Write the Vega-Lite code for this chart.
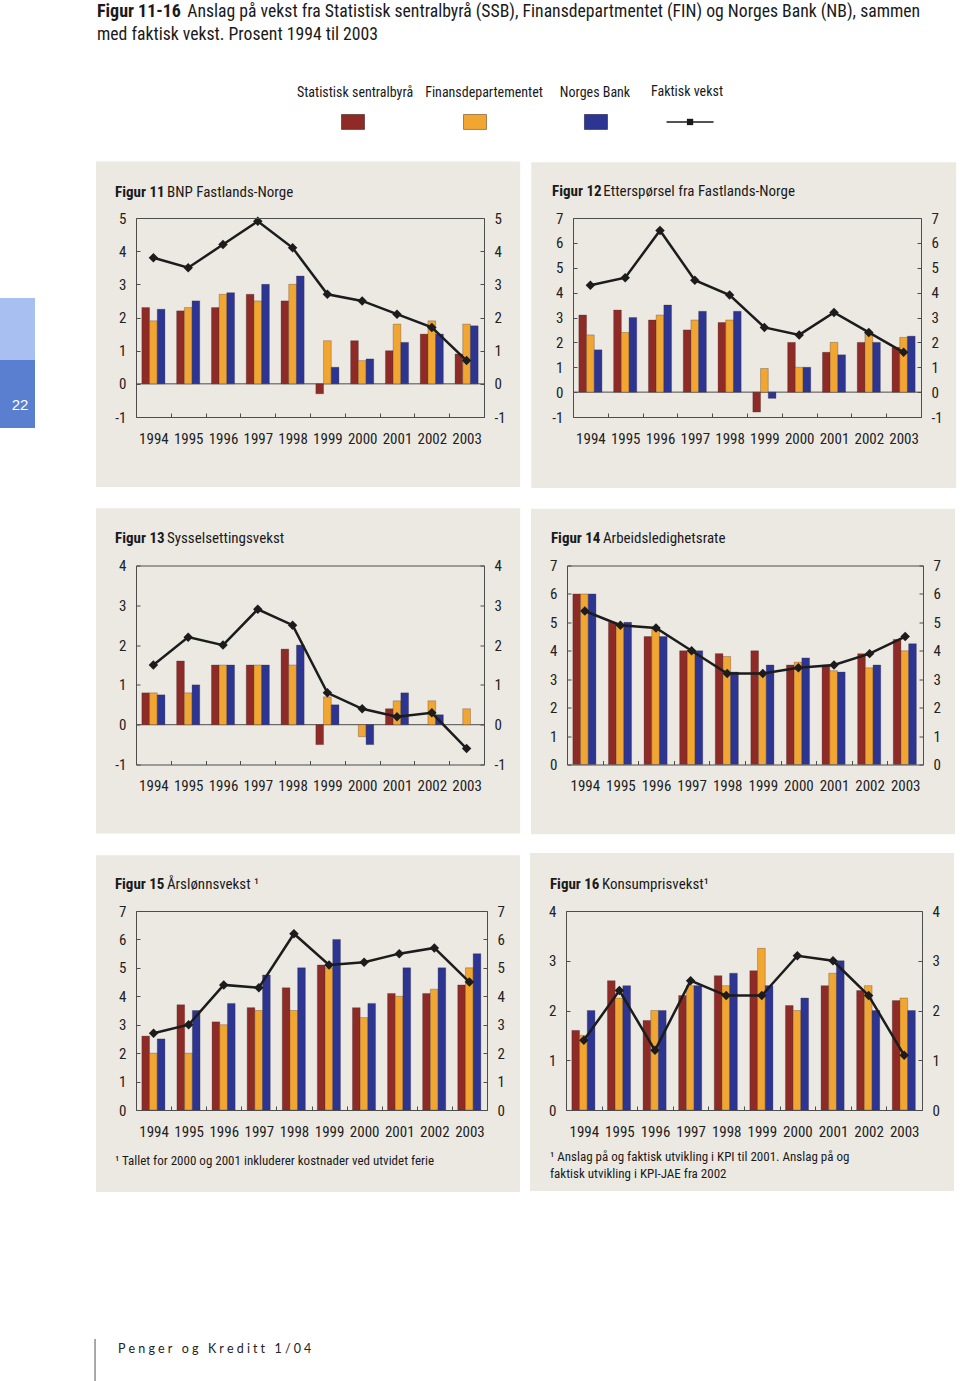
{
"$schema": "https://vega.github.io/schema/vega-lite/v6.json",
"padding": 0,
"background": "white",
"config": {
 "font": "Roboto Condensed, Roboto, sans-serif",
 "view": {"stroke": null},
 "axis": {"domainColor": "#4d4d4d", "tickColor": "#4d4d4d", "domainWidth": 1, "tickWidth": 1, "labelFont": "Roboto Condensed, Roboto, sans-serif", "labelFontSize": 15, "labelColor": "#222222", "grid": false},
 "axisX": {"labelAngle": 0},
 "axisY": {"labelExpr": "datum.value < 0 ? '-' + abs(datum.value) : datum.label"}
},
"datasets": {
 "f11": [
  {"year":1994,"SSB":2.3,"FIN":1.9,"NB":2.25,"Faktisk":3.8},
  {"year":1995,"SSB":2.2,"FIN":2.3,"NB":2.5,"Faktisk":3.5},
  {"year":1996,"SSB":2.3,"FIN":2.7,"NB":2.75,"Faktisk":4.2},
  {"year":1997,"SSB":2.7,"FIN":2.5,"NB":3.0,"Faktisk":4.9},
  {"year":1998,"SSB":2.5,"FIN":3.0,"NB":3.25,"Faktisk":4.1},
  {"year":1999,"SSB":-0.3,"FIN":1.3,"NB":0.5,"Faktisk":2.7},
  {"year":2000,"SSB":1.3,"FIN":0.7,"NB":0.75,"Faktisk":2.5},
  {"year":2001,"SSB":1.0,"FIN":1.8,"NB":1.25,"Faktisk":2.1},
  {"year":2002,"SSB":1.5,"FIN":1.9,"NB":1.5,"Faktisk":1.7},
  {"year":2003,"SSB":0.9,"FIN":1.8,"NB":1.75,"Faktisk":0.7}
 ],
 "f12": [
  {"year":1994,"SSB":3.1,"FIN":2.3,"NB":1.7,"Faktisk":4.3},
  {"year":1995,"SSB":3.3,"FIN":2.4,"NB":3.0,"Faktisk":4.6},
  {"year":1996,"SSB":2.9,"FIN":3.1,"NB":3.5,"Faktisk":6.5},
  {"year":1997,"SSB":2.5,"FIN":2.9,"NB":3.25,"Faktisk":4.5},
  {"year":1998,"SSB":2.8,"FIN":2.9,"NB":3.25,"Faktisk":3.9},
  {"year":1999,"SSB":-0.8,"FIN":0.95,"NB":-0.25,"Faktisk":2.6},
  {"year":2000,"SSB":2.0,"FIN":1.0,"NB":1.0,"Faktisk":2.3},
  {"year":2001,"SSB":1.6,"FIN":2.0,"NB":1.5,"Faktisk":3.2},
  {"year":2002,"SSB":2.0,"FIN":2.4,"NB":2.0,"Faktisk":2.4},
  {"year":2003,"SSB":1.8,"FIN":2.2,"NB":2.25,"Faktisk":1.6}
 ],
 "f13": [
  {"year":1994,"SSB":0.8,"FIN":0.8,"NB":0.75,"Faktisk":1.5},
  {"year":1995,"SSB":1.6,"FIN":0.8,"NB":1.0,"Faktisk":2.2},
  {"year":1996,"SSB":1.5,"FIN":1.5,"NB":1.5,"Faktisk":2.0},
  {"year":1997,"SSB":1.5,"FIN":1.5,"NB":1.5,"Faktisk":2.9},
  {"year":1998,"SSB":1.9,"FIN":1.5,"NB":2.0,"Faktisk":2.5},
  {"year":1999,"SSB":-0.5,"FIN":0.7,"NB":0.5,"Faktisk":0.8},
  {"year":2000,"SSB":null,"FIN":-0.3,"NB":-0.5,"Faktisk":0.4},
  {"year":2001,"SSB":0.4,"FIN":0.6,"NB":0.8,"Faktisk":0.2},
  {"year":2002,"SSB":null,"FIN":0.6,"NB":0.25,"Faktisk":0.3},
  {"year":2003,"SSB":null,"FIN":0.4,"NB":null,"Faktisk":-0.6}
 ],
 "f14": [
  {"year":1994,"SSB":6.0,"FIN":6.0,"NB":6.0,"Faktisk":5.4},
  {"year":1995,"SSB":5.0,"FIN":4.9,"NB":5.0,"Faktisk":4.9},
  {"year":1996,"SSB":4.5,"FIN":4.8,"NB":4.5,"Faktisk":4.8},
  {"year":1997,"SSB":4.0,"FIN":4.0,"NB":4.0,"Faktisk":4.0},
  {"year":1998,"SSB":3.9,"FIN":3.8,"NB":3.25,"Faktisk":3.2},
  {"year":1999,"SSB":4.0,"FIN":3.2,"NB":3.5,"Faktisk":3.2},
  {"year":2000,"SSB":3.5,"FIN":3.6,"NB":3.75,"Faktisk":3.4},
  {"year":2001,"SSB":3.5,"FIN":3.3,"NB":3.25,"Faktisk":3.5},
  {"year":2002,"SSB":3.9,"FIN":3.4,"NB":3.5,"Faktisk":3.9},
  {"year":2003,"SSB":4.4,"FIN":4.0,"NB":4.25,"Faktisk":4.5}
 ],
 "f15": [
  {"year":1994,"SSB":2.6,"FIN":2.0,"NB":2.5,"Faktisk":2.7},
  {"year":1995,"SSB":3.7,"FIN":2.0,"NB":3.5,"Faktisk":3.0},
  {"year":1996,"SSB":3.1,"FIN":3.0,"NB":3.75,"Faktisk":4.4},
  {"year":1997,"SSB":3.6,"FIN":3.5,"NB":4.75,"Faktisk":4.3},
  {"year":1998,"SSB":4.3,"FIN":3.5,"NB":5.0,"Faktisk":6.2},
  {"year":1999,"SSB":5.1,"FIN":5.0,"NB":6.0,"Faktisk":5.1},
  {"year":2000,"SSB":3.6,"FIN":3.25,"NB":3.75,"Faktisk":5.2},
  {"year":2001,"SSB":4.1,"FIN":4.0,"NB":5.0,"Faktisk":5.5},
  {"year":2002,"SSB":4.1,"FIN":4.25,"NB":5.0,"Faktisk":5.7},
  {"year":2003,"SSB":4.4,"FIN":5.0,"NB":5.5,"Faktisk":4.5}
 ],
 "f16": [
  {"year":1994,"SSB":1.6,"FIN":1.5,"NB":2.0,"Faktisk":1.4},
  {"year":1995,"SSB":2.6,"FIN":2.25,"NB":2.5,"Faktisk":2.4},
  {"year":1996,"SSB":1.8,"FIN":2.0,"NB":2.0,"Faktisk":1.2},
  {"year":1997,"SSB":2.3,"FIN":2.5,"NB":2.5,"Faktisk":2.6},
  {"year":1998,"SSB":2.7,"FIN":2.5,"NB":2.75,"Faktisk":2.3},
  {"year":1999,"SSB":2.8,"FIN":3.25,"NB":2.5,"Faktisk":2.3},
  {"year":2000,"SSB":2.1,"FIN":2.0,"NB":2.25,"Faktisk":3.1},
  {"year":2001,"SSB":2.5,"FIN":2.75,"NB":3.0,"Faktisk":3.0},
  {"year":2002,"SSB":2.4,"FIN":2.5,"NB":2.0,"Faktisk":2.3},
  {"year":2003,"SSB":2.2,"FIN":2.25,"NB":2.0,"Faktisk":1.1}
 ]
},
"spacing": 146,
"vconcat": [
 {"spacing": 30, "vconcat": [
  {"width": 960, "height": 131, "data": {"values": [{}]},
   "layer": [
    {"mark": {"type": "text", "text": "Figur 11-16", "fontWeight": "bold", "fontSize": 18, "align": "left", "baseline": "alphabetic", "color": "#1a1a1a"},
     "encoding": {"x": {"datum": 0.101, "type": "quantitative", "scale": {"domain": [0,1], "nice": false, "zero": false}, "axis": null}, "y": {"datum": 0.870, "type": "quantitative", "scale": {"domain": [0,1], "nice": false, "zero": false}, "axis": null}}},
    {"mark": {"type": "text", "text": "Anslag på vekst fra Statistisk sentralbyrå (SSB), Finansdepartmentet (FIN) og Norges Bank (NB), sammen", "fontSize": 17.7, "align": "left", "baseline": "alphabetic", "color": "#1a1a1a"},
     "encoding": {"x": {"datum": 0.195, "type": "quantitative"}, "y": {"datum": 0.870, "type": "quantitative"}}},
    {"mark": {"type": "text", "text": "med faktisk vekst. Prosent 1994 til 2003", "fontSize": 17.7, "align": "left", "baseline": "alphabetic", "color": "#1a1a1a"},
     "encoding": {"x": {"datum": 0.101, "type": "quantitative"}, "y": {"datum": 0.695, "type": "quantitative"}}},
    {"mark": {"type": "text", "text": "Statistisk sentralbyrå", "fontSize": 14, "align": "center", "baseline": "middle", "color": "#1a1a1a"},
     "encoding": {"x": {"datum": 0.3698, "type": "quantitative"}, "y": {"datum": 0.290, "type": "quantitative"}}},
    {"mark": {"type": "text", "text": "Finansdepartementet", "fontSize": 14, "align": "center", "baseline": "middle", "color": "#1a1a1a"},
     "encoding": {"x": {"datum": 0.5042, "type": "quantitative"}, "y": {"datum": 0.290, "type": "quantitative"}}},
    {"mark": {"type": "text", "text": "Norges Bank", "fontSize": 14, "align": "center", "baseline": "middle", "color": "#1a1a1a"},
     "encoding": {"x": {"datum": 0.6198, "type": "quantitative"}, "y": {"datum": 0.290, "type": "quantitative"}}},
    {"mark": {"type": "text", "text": "Faktisk vekst", "fontSize": 14, "align": "center", "baseline": "middle", "color": "#1a1a1a"},
     "encoding": {"x": {"datum": 0.7156, "type": "quantitative"}, "y": {"datum": 0.300, "type": "quantitative"}}},
    {"mark": {"type": "point", "shape": "M-1,-0.65H1V0.65H-1Z", "size": 529, "filled": true, "fill": "#8e2b26", "stroke": "#3a2020", "strokeWidth": 0.6, "opacity": 1},
     "encoding": {"x": {"datum": 0.3677, "type": "quantitative"}, "y": {"datum": 0.069, "type": "quantitative"}}},
    {"mark": {"type": "point", "shape": "M-1,-0.65H1V0.65H-1Z", "size": 529, "filled": true, "fill": "#f2a632", "stroke": "#6a4a20", "strokeWidth": 0.6, "opacity": 1},
     "encoding": {"x": {"datum": 0.4948, "type": "quantitative"}, "y": {"datum": 0.069, "type": "quantitative"}}},
    {"mark": {"type": "point", "shape": "M-1,-0.65H1V0.65H-1Z", "size": 529, "filled": true, "fill": "#2c3591", "stroke": "#1a1a40", "strokeWidth": 0.6, "opacity": 1},
     "encoding": {"x": {"datum": 0.6208, "type": "quantitative"}, "y": {"datum": 0.069, "type": "quantitative"}}},
    {"mark": {"type": "point", "shape": "M-1,0H1", "size": 2209, "filled": false, "stroke": "#1a1a1a", "strokeWidth": 1.5, "opacity": 1},
     "encoding": {"x": {"datum": 0.7188, "type": "quantitative"}, "y": {"datum": 0.069, "type": "quantitative"}}},
    {"mark": {"type": "point", "shape": "square", "size": 40, "filled": true, "color": "#1a1a1a", "opacity": 1},
     "encoding": {"x": {"datum": 0.7188, "type": "quantitative"}, "y": {"datum": 0.069, "type": "quantitative"}}}
   ]
  },
  {"spacing": 60, "hconcat": [
   {"width": 35, "height": 210, "data": {"values": [{}]},
    "layer": [
     {"mark": {"type": "rect", "fill": "#a8bff2"},
      "encoding": {"y": {"datum": 0.324, "type": "quantitative", "scale": {"domain": [0,1], "nice": false, "zero": false}, "axis": null}, "y2": {"datum": 0.619}}},
     {"mark": {"type": "rect", "fill": "#5a7fd0"},
      "encoding": {"y": {"datum": 0.0, "type": "quantitative"}, "y2": {"datum": 0.324}}},
     {"mark": {"type": "text", "text": "22", "color": "white", "fontSize": 15, "font": "Liberation Sans", "align": "center", "baseline": "middle"},
      "encoding": {"x": {"datum": 0.571, "type": "quantitative", "scale": {"domain": [0,1], "nice": false, "zero": false}, "axis": null}, "y": {"datum": 0.110, "type": "quantitative"}}}
    ]
   },
   {"spacing": 18.5, "vconcat": [
    {"spacing": 10, "hconcat": [
     {"width": 348, "height": 199,
      "resolve": {"scale": {"x": "independent", "y": "independent"}},
      "layer": [
       {"data": {"values": [{}]}, "mark": {"type": "rect", "fill": "#ece9e3", "clip": false},
        "encoding": {"x": {"datum": -0.115, "type": "quantitative", "scale": {"domain": [0,1], "nice": false, "zero": false}, "axis": {"orient": "top", "labels": false, "ticks": false, "domain": true, "zindex": 1, "title": null}}, "x2": {"datum": 1.104},
                     "y": {"datum": -0.352, "type": "quantitative", "scale": {"domain": [0,1], "nice": false, "zero": false}, "axis": null}, "y2": {"datum": 1.284}}},
       {"data": {"values": [{}]}, "mark": {"type": "rule", "color": "#4d4d4d", "strokeWidth": 1},
        "encoding": {"y": {"datum": 0, "type": "quantitative", "scale": {"domain": [-1,5], "nice": false, "zero": false}, "axis": null}}},
       {"data": {"name": "f11"}, "transform": [{"fold": ["SSB","FIN","NB"], "as": ["series","value"]}],
        "mark": {"type": "bar", "stroke": "#3a2a2a", "strokeWidth": 0.3},
        "encoding": {
         "x": {"field": "year", "type": "ordinal", "scale": {"type": "band", "domain": [1994,1995,1996,1997,1998,1999,2000,2001,2002,2003], "paddingInner": 0, "paddingOuter": 0}, "axis": {"orient": "bottom", "tickBand": "extent", "zindex": 1, "tickSize": -4, "labelPadding": 18, "title": null}},
         "xOffset": {"field": "series", "type": "nominal", "scale": {"domain": ["SSB","FIN","NB"], "paddingInner": 0, "paddingOuter": 0.76}},
         "y": {"field": "value", "type": "quantitative", "scale": {"domain": [-1,5], "nice": false, "zero": false}, "axis": {"orient": "left", "values": [-1,0,1,2,3,4,5], "zindex": 1, "tickSize": -4, "labelPadding": 14, "title": null}},
         "color": {"field": "series", "type": "nominal", "scale": {"domain": ["SSB","FIN","NB"], "range": ["#8e2b26","#f2a632","#2c3591"]}, "legend": null}}},
       {"data": {"name": "f11"},
        "encoding": {
         "x": {"field": "year", "type": "ordinal", "scale": {"type": "band", "domain": [1994,1995,1996,1997,1998,1999,2000,2001,2002,2003], "paddingInner": 0, "paddingOuter": 0}, "axis": null},
         "y": {"field": "Faktisk", "type": "quantitative", "scale": {"domain": [-1,5], "nice": false, "zero": false}, "axis": {"orient": "right", "values": [-1,0,1,2,3,4,5], "zindex": 1, "tickSize": -4, "labelPadding": 14, "title": null}}},
        "layer": [
         {"mark": {"type": "line", "color": "#1c1c1c", "strokeWidth": 2.5}},
         {"mark": {"type": "point", "shape": "diamond", "filled": true, "color": "#1c1c1c", "size": 90, "opacity": 1}}
        ]},
       {"data": {"values": [{}]},
        "encoding": {"y": {"datum": 1.108, "type": "quantitative", "scale": {"domain": [0,1], "nice": false, "zero": false}, "axis": null}},
        "layer": [
         {"mark": {"type": "text", "text": "Figur 11", "fontWeight": "bold", "fontSize": 15, "align": "left", "baseline": "alphabetic", "color": "#1a1a1a"},
          "encoding": {"x": {"datum": -0.060, "type": "quantitative", "scale": {"domain": [0,1], "nice": false, "zero": false}, "axis": null}}},
         {"mark": {"type": "text", "text": "BNP Fastlands-Norge", "fontSize": 15, "align": "left", "baseline": "alphabetic", "color": "#1a1a1a"},
          "encoding": {"x": {"datum": 0.089, "type": "quantitative"}}}
        ]}
      ]
     },
     {"width": 348, "height": 199,
      "resolve": {"scale": {"x": "independent", "y": "independent"}},
      "layer": [
       {"data": {"values": [{}]}, "mark": {"type": "rect", "fill": "#ece9e3", "clip": false},
        "encoding": {"x": {"datum": -0.120, "type": "quantitative", "scale": {"domain": [0,1], "nice": false, "zero": false}, "axis": {"orient": "top", "labels": false, "ticks": false, "domain": true, "zindex": 1, "title": null}}, "x2": {"datum": 1.101},
                     "y": {"datum": -0.357, "type": "quantitative", "scale": {"domain": [0,1], "nice": false, "zero": false}, "axis": null}, "y2": {"datum": 1.280}}},
       {"data": {"values": [{}]}, "mark": {"type": "rule", "color": "#4d4d4d", "strokeWidth": 1},
        "encoding": {"y": {"datum": 0, "type": "quantitative", "scale": {"domain": [-1,7], "nice": false, "zero": false}, "axis": null}}},
       {"data": {"name": "f12"}, "transform": [{"fold": ["SSB","FIN","NB"], "as": ["series","value"]}],
        "mark": {"type": "bar", "stroke": "#3a2a2a", "strokeWidth": 0.3},
        "encoding": {
         "x": {"field": "year", "type": "ordinal", "scale": {"type": "band", "domain": [1994,1995,1996,1997,1998,1999,2000,2001,2002,2003], "paddingInner": 0, "paddingOuter": 0}, "axis": {"orient": "bottom", "tickBand": "extent", "zindex": 1, "tickSize": -4, "labelPadding": 18, "title": null}},
         "xOffset": {"field": "series", "type": "nominal", "scale": {"domain": ["SSB","FIN","NB"], "paddingInner": 0, "paddingOuter": 0.76}},
         "y": {"field": "value", "type": "quantitative", "scale": {"domain": [-1,7], "nice": false, "zero": false}, "axis": {"orient": "left", "values": [-1,0,1,2,3,4,5,6,7], "zindex": 1, "tickSize": -4, "labelPadding": 14, "title": null}},
         "color": {"field": "series", "type": "nominal", "scale": {"domain": ["SSB","FIN","NB"], "range": ["#8e2b26","#f2a632","#2c3591"]}, "legend": null}}},
       {"data": {"name": "f12"},
        "encoding": {
         "x": {"field": "year", "type": "ordinal", "scale": {"type": "band", "domain": [1994,1995,1996,1997,1998,1999,2000,2001,2002,2003], "paddingInner": 0, "paddingOuter": 0}, "axis": null},
         "y": {"field": "Faktisk", "type": "quantitative", "scale": {"domain": [-1,7], "nice": false, "zero": false}, "axis": {"orient": "right", "values": [-1,0,1,2,3,4,5,6,7], "zindex": 1, "tickSize": -4, "labelPadding": 14, "title": null}}},
        "layer": [
         {"mark": {"type": "line", "color": "#1c1c1c", "strokeWidth": 2.5}},
         {"mark": {"type": "point", "shape": "diamond", "filled": true, "color": "#1c1c1c", "size": 90, "opacity": 1}}
        ]},
       {"data": {"values": [{}]},
        "encoding": {"y": {"datum": 1.109, "type": "quantitative", "scale": {"domain": [0,1], "nice": false, "zero": false}, "axis": null}},
        "layer": [
         {"mark": {"type": "text", "text": "Figur 12", "fontWeight": "bold", "fontSize": 15, "align": "left", "baseline": "alphabetic", "color": "#1a1a1a"},
          "encoding": {"x": {"datum": -0.060, "type": "quantitative", "scale": {"domain": [0,1], "nice": false, "zero": false}, "axis": null}}},
         {"mark": {"type": "text", "text": "Etterspørsel fra Fastlands-Norge", "fontSize": 15, "align": "left", "baseline": "alphabetic", "color": "#1a1a1a"},
          "encoding": {"x": {"datum": 0.087, "type": "quantitative"}}}
        ]}
      ]
     }
    ]},
    {"spacing": 10, "hconcat": [
     {"width": 348, "height": 199,
      "resolve": {"scale": {"x": "independent", "y": "independent"}},
      "layer": [
       {"data": {"values": [{}]}, "mark": {"type": "rect", "fill": "#ece9e3", "clip": false},
        "encoding": {"x": {"datum": -0.115, "type": "quantitative", "scale": {"domain": [0,1], "nice": false, "zero": false}, "axis": {"orient": "top", "labels": false, "ticks": false, "domain": true, "zindex": 1, "title": null}}, "x2": {"datum": 1.104},
                     "y": {"datum": -0.347, "type": "quantitative", "scale": {"domain": [0,1], "nice": false, "zero": false}, "axis": null}, "y2": {"datum": 1.288}}},
       {"data": {"values": [{}]}, "mark": {"type": "rule", "color": "#4d4d4d", "strokeWidth": 1},
        "encoding": {"y": {"datum": 0, "type": "quantitative", "scale": {"domain": [-1,4], "nice": false, "zero": false}, "axis": null}}},
       {"data": {"name": "f13"}, "transform": [{"fold": ["SSB","FIN","NB"], "as": ["series","value"]}],
        "mark": {"type": "bar", "stroke": "#3a2a2a", "strokeWidth": 0.3},
        "encoding": {
         "x": {"field": "year", "type": "ordinal", "scale": {"type": "band", "domain": [1994,1995,1996,1997,1998,1999,2000,2001,2002,2003], "paddingInner": 0, "paddingOuter": 0}, "axis": {"orient": "bottom", "tickBand": "extent", "zindex": 1, "tickSize": -4, "labelPadding": 18, "title": null}},
         "xOffset": {"field": "series", "type": "nominal", "scale": {"domain": ["SSB","FIN","NB"], "paddingInner": 0, "paddingOuter": 0.76}},
         "y": {"field": "value", "type": "quantitative", "scale": {"domain": [-1,4], "nice": false, "zero": false}, "axis": {"orient": "left", "values": [-1,0,1,2,3,4], "zindex": 1, "tickSize": -4, "labelPadding": 14, "title": null}},
         "color": {"field": "series", "type": "nominal", "scale": {"domain": ["SSB","FIN","NB"], "range": ["#8e2b26","#f2a632","#2c3591"]}, "legend": null}}},
       {"data": {"name": "f13"},
        "encoding": {
         "x": {"field": "year", "type": "ordinal", "scale": {"type": "band", "domain": [1994,1995,1996,1997,1998,1999,2000,2001,2002,2003], "paddingInner": 0, "paddingOuter": 0}, "axis": null},
         "y": {"field": "Faktisk", "type": "quantitative", "scale": {"domain": [-1,4], "nice": false, "zero": false}, "axis": {"orient": "right", "values": [-1,0,1,2,3,4], "zindex": 1, "tickSize": -4, "labelPadding": 14, "title": null}}},
        "layer": [
         {"mark": {"type": "line", "color": "#1c1c1c", "strokeWidth": 2.5}},
         {"mark": {"type": "point", "shape": "diamond", "filled": true, "color": "#1c1c1c", "size": 90, "opacity": 1}}
        ]},
       {"data": {"values": [{}]},
        "encoding": {"y": {"datum": 1.112, "type": "quantitative", "scale": {"domain": [0,1], "nice": false, "zero": false}, "axis": null}},
        "layer": [
         {"mark": {"type": "text", "text": "Figur 13", "fontWeight": "bold", "fontSize": 15, "align": "left", "baseline": "alphabetic", "color": "#1a1a1a"},
          "encoding": {"x": {"datum": -0.060, "type": "quantitative", "scale": {"domain": [0,1], "nice": false, "zero": false}, "axis": null}}},
         {"mark": {"type": "text", "text": "Sysselsettingsvekst", "fontSize": 15, "align": "left", "baseline": "alphabetic", "color": "#1a1a1a"},
          "encoding": {"x": {"datum": 0.089, "type": "quantitative"}}}
        ]}
      ]
     },
     {"width": 356, "height": 199,
      "resolve": {"scale": {"x": "independent", "y": "independent"}},
      "layer": [
       {"data": {"values": [{}]}, "mark": {"type": "rect", "fill": "#ece9e3", "clip": false},
        "encoding": {"x": {"datum": -0.101, "type": "quantitative", "scale": {"domain": [0,1], "nice": false, "zero": false}, "axis": {"orient": "top", "labels": false, "ticks": false, "domain": true, "zindex": 1, "title": null}}, "x2": {"datum": 1.090},
                     "y": {"datum": -0.350, "type": "quantitative", "scale": {"domain": [0,1], "nice": false, "zero": false}, "axis": null}, "y2": {"datum": 1.285}}},
       {"data": {"name": "f14"}, "transform": [{"fold": ["SSB","FIN","NB"], "as": ["series","value"]}],
        "mark": {"type": "bar", "stroke": "#3a2a2a", "strokeWidth": 0.3},
        "encoding": {
         "x": {"field": "year", "type": "ordinal", "scale": {"type": "band", "domain": [1994,1995,1996,1997,1998,1999,2000,2001,2002,2003], "paddingInner": 0, "paddingOuter": 0}, "axis": {"orient": "bottom", "tickBand": "extent", "zindex": 1, "tickSize": -4, "labelPadding": 18, "title": null}},
         "xOffset": {"field": "series", "type": "nominal", "scale": {"domain": ["SSB","FIN","NB"], "paddingInner": 0, "paddingOuter": 0.76}},
         "y": {"field": "value", "type": "quantitative", "scale": {"domain": [0,7], "nice": false, "zero": false}, "axis": {"orient": "left", "values": [0,1,2,3,4,5,6,7], "zindex": 1, "tickSize": -4, "labelPadding": 14, "title": null}},
         "color": {"field": "series", "type": "nominal", "scale": {"domain": ["SSB","FIN","NB"], "range": ["#8e2b26","#f2a632","#2c3591"]}, "legend": null}}},
       {"data": {"name": "f14"},
        "encoding": {
         "x": {"field": "year", "type": "ordinal", "scale": {"type": "band", "domain": [1994,1995,1996,1997,1998,1999,2000,2001,2002,2003], "paddingInner": 0, "paddingOuter": 0}, "axis": null},
         "y": {"field": "Faktisk", "type": "quantitative", "scale": {"domain": [0,7], "nice": false, "zero": false}, "axis": {"orient": "right", "values": [0,1,2,3,4,5,6,7], "zindex": 1, "tickSize": -4, "labelPadding": 14, "title": null}}},
        "layer": [
         {"mark": {"type": "line", "color": "#1c1c1c", "strokeWidth": 2.5}},
         {"mark": {"type": "point", "shape": "diamond", "filled": true, "color": "#1c1c1c", "size": 90, "opacity": 1}}
        ]},
       {"data": {"values": [{}]},
        "encoding": {"y": {"datum": 1.114, "type": "quantitative", "scale": {"domain": [0,1], "nice": false, "zero": false}, "axis": null}},
        "layer": [
         {"mark": {"type": "text", "text": "Figur 14", "fontWeight": "bold", "fontSize": 15, "align": "left", "baseline": "alphabetic", "color": "#1a1a1a"},
          "encoding": {"x": {"datum": -0.045, "type": "quantitative", "scale": {"domain": [0,1], "nice": false, "zero": false}, "axis": null}}},
         {"mark": {"type": "text", "text": "Arbeidsledighetsrate", "fontSize": 15, "align": "left", "baseline": "alphabetic", "color": "#1a1a1a"},
          "encoding": {"x": {"datum": 0.101, "type": "quantitative"}}}
        ]}
      ]
     }
    ]},
    {"spacing": 10, "hconcat": [
     {"width": 351, "height": 199,
      "resolve": {"scale": {"x": "independent", "y": "independent"}},
      "layer": [
       {"data": {"values": [{}]}, "mark": {"type": "rect", "fill": "#ece9e3", "clip": false},
        "encoding": {"x": {"datum": -0.114, "type": "quantitative", "scale": {"domain": [0,1], "nice": false, "zero": false}, "axis": {"orient": "top", "labels": false, "ticks": false, "domain": true, "zindex": 1, "title": null}}, "x2": {"datum": 1.094},
                     "y": {"datum": -0.412, "type": "quantitative", "scale": {"domain": [0,1], "nice": false, "zero": false}, "axis": null}, "y2": {"datum": 1.280}}},
       {"data": {"name": "f15"}, "transform": [{"fold": ["SSB","FIN","NB"], "as": ["series","value"]}],
        "mark": {"type": "bar", "stroke": "#3a2a2a", "strokeWidth": 0.3},
        "encoding": {
         "x": {"field": "year", "type": "ordinal", "scale": {"type": "band", "domain": [1994,1995,1996,1997,1998,1999,2000,2001,2002,2003], "paddingInner": 0, "paddingOuter": 0}, "axis": {"orient": "bottom", "tickBand": "extent", "zindex": 1, "tickSize": -4, "labelPadding": 18, "title": null}},
         "xOffset": {"field": "series", "type": "nominal", "scale": {"domain": ["SSB","FIN","NB"], "paddingInner": 0, "paddingOuter": 0.76}},
         "y": {"field": "value", "type": "quantitative", "scale": {"domain": [0,7], "nice": false, "zero": false}, "axis": {"orient": "left", "values": [0,1,2,3,4,5,6,7], "zindex": 1, "tickSize": -4, "labelPadding": 14, "title": null}},
         "color": {"field": "series", "type": "nominal", "scale": {"domain": ["SSB","FIN","NB"], "range": ["#8e2b26","#f2a632","#2c3591"]}, "legend": null}}},
       {"data": {"name": "f15"},
        "encoding": {
         "x": {"field": "year", "type": "ordinal", "scale": {"type": "band", "domain": [1994,1995,1996,1997,1998,1999,2000,2001,2002,2003], "paddingInner": 0, "paddingOuter": 0}, "axis": null},
         "y": {"field": "Faktisk", "type": "quantitative", "scale": {"domain": [0,7], "nice": false, "zero": false}, "axis": {"orient": "right", "values": [0,1,2,3,4,5,6,7], "zindex": 1, "tickSize": -4, "labelPadding": 14, "title": null}}},
        "layer": [
         {"mark": {"type": "line", "color": "#1c1c1c", "strokeWidth": 2.5}},
         {"mark": {"type": "point", "shape": "diamond", "filled": true, "color": "#1c1c1c", "size": 90, "opacity": 1}}
        ]},
       {"data": {"values": [{}]},
        "encoding": {"y": {"datum": 1.109, "type": "quantitative", "scale": {"domain": [0,1], "nice": false, "zero": false}, "axis": null}},
        "layer": [
         {"mark": {"type": "text", "text": "Figur 15", "fontWeight": "bold", "fontSize": 15, "align": "left", "baseline": "alphabetic", "color": "#1a1a1a"},
          "encoding": {"x": {"datum": -0.060, "type": "quantitative", "scale": {"domain": [0,1], "nice": false, "zero": false}, "axis": null}}},
         {"mark": {"type": "text", "text": "Årslønnsvekst ¹", "fontSize": 15, "align": "left", "baseline": "alphabetic", "color": "#1a1a1a"},
          "encoding": {"x": {"datum": 0.088, "type": "quantitative"}}}
        ]},
       {"data": {"values": [{}]},
        "mark": {"type": "text", "text": "¹ Tallet for 2000 og 2001 inkluderer kostnader ved utvidet ferie", "fontSize": 13, "align": "left", "baseline": "alphabetic", "color": "#1a1a1a"},
        "encoding": {"x": {"datum": -0.060, "type": "quantitative", "scale": {"domain": [0,1], "nice": false, "zero": false}, "axis": null},
                     "y": {"datum": -0.276, "type": "quantitative", "scale": {"domain": [0,1], "nice": false, "zero": false}, "axis": null}}}
      ]
     },
     {"width": 356, "height": 199,
      "resolve": {"scale": {"x": "independent", "y": "independent"}},
      "layer": [
       {"data": {"values": [{}]}, "mark": {"type": "rect", "fill": "#ece9e3", "clip": false},
        "encoding": {"x": {"datum": -0.101, "type": "quantitative", "scale": {"domain": [0,1], "nice": false, "zero": false}, "axis": {"orient": "top", "labels": false, "ticks": false, "domain": true, "zindex": 1, "title": null}}, "x2": {"datum": 1.090},
                     "y": {"datum": -0.407, "type": "quantitative", "scale": {"domain": [0,1], "nice": false, "zero": false}, "axis": null}, "y2": {"datum": 1.291}}},
       {"data": {"name": "f16"}, "transform": [{"fold": ["SSB","FIN","NB"], "as": ["series","value"]}],
        "mark": {"type": "bar", "stroke": "#3a2a2a", "strokeWidth": 0.3},
        "encoding": {
         "x": {"field": "year", "type": "ordinal", "scale": {"type": "band", "domain": [1994,1995,1996,1997,1998,1999,2000,2001,2002,2003], "paddingInner": 0, "paddingOuter": 0}, "axis": {"orient": "bottom", "tickBand": "extent", "zindex": 1, "tickSize": -4, "labelPadding": 18, "title": null}},
         "xOffset": {"field": "series", "type": "nominal", "scale": {"domain": ["SSB","FIN","NB"], "paddingInner": 0, "paddingOuter": 0.76}},
         "y": {"field": "value", "type": "quantitative", "scale": {"domain": [0,4], "nice": false, "zero": false}, "axis": {"orient": "left", "values": [0,1,2,3,4], "zindex": 1, "tickSize": -4, "labelPadding": 14, "title": null}},
         "color": {"field": "series", "type": "nominal", "scale": {"domain": ["SSB","FIN","NB"], "range": ["#8e2b26","#f2a632","#2c3591"]}, "legend": null}}},
       {"data": {"name": "f16"},
        "encoding": {
         "x": {"field": "year", "type": "ordinal", "scale": {"type": "band", "domain": [1994,1995,1996,1997,1998,1999,2000,2001,2002,2003], "paddingInner": 0, "paddingOuter": 0}, "axis": null},
         "y": {"field": "Faktisk", "type": "quantitative", "scale": {"domain": [0,4], "nice": false, "zero": false}, "axis": {"orient": "right", "values": [0,1,2,3,4], "zindex": 1, "tickSize": -4, "labelPadding": 14, "title": null}}},
        "layer": [
         {"mark": {"type": "line", "color": "#1c1c1c", "strokeWidth": 2.5}},
         {"mark": {"type": "point", "shape": "diamond", "filled": true, "color": "#1c1c1c", "size": 90, "opacity": 1}}
        ]},
       {"data": {"values": [{}]},
        "encoding": {"y": {"datum": 1.111, "type": "quantitative", "scale": {"domain": [0,1], "nice": false, "zero": false}, "axis": null}},
        "layer": [
         {"mark": {"type": "text", "text": "Figur 16", "fontWeight": "bold", "fontSize": 15, "align": "left", "baseline": "alphabetic", "color": "#1a1a1a"},
          "encoding": {"x": {"datum": -0.045, "type": "quantitative", "scale": {"domain": [0,1], "nice": false, "zero": false}, "axis": null}}},
         {"mark": {"type": "text", "text": "Konsumprisvekst¹", "fontSize": 15, "align": "left", "baseline": "alphabetic", "color": "#1a1a1a"},
          "encoding": {"x": {"datum": 0.101, "type": "quantitative"}}}
        ]},
       {"data": {"values": [{}]},
        "mark": {"type": "text", "text": ["¹ Anslag på og faktisk utvikling i KPI til 2001. Anslag på og", "faktisk utvikling i KPI-JAE fra 2002"], "lineHeight": 17, "fontSize": 13, "align": "left", "baseline": "alphabetic", "color": "#1a1a1a"},
        "encoding": {"x": {"datum": -0.045, "type": "quantitative", "scale": {"domain": [0,1], "nice": false, "zero": false}, "axis": null},
                     "y": {"datum": -0.258, "type": "quantitative", "scale": {"domain": [0,1], "nice": false, "zero": false}, "axis": null}}}
      ]
     }
    ]}
   ]}
  ]}
 ]},
 {"width": 960, "height": 43, "data": {"values": [{}]},
  "layer": [
   {"mark": {"type": "rule", "color": "#555555", "strokeWidth": 1},
    "encoding": {"x": {"datum": 0.099, "type": "quantitative", "scale": {"domain": [0,1], "nice": false, "zero": false}, "axis": null}}},
   {"mark": {"type": "text", "text": "P\u2005e\u2005n\u2005g\u2005e\u2005r\u2005 \u2005o\u2005g\u2005 \u2005K\u2005r\u2005e\u2005d\u2005i\u2005t\u2005t\u2005 \u20051\u2005/\u20050\u20054", "font": "Lato", "fontSize": 12.5, "align": "left", "baseline": "alphabetic", "color": "#222222"},
    "encoding": {"x": {"datum": 0.1229, "type": "quantitative"}, "y": {"datum": 0.674, "type": "quantitative", "scale": {"domain": [0,1], "nice": false, "zero": false}, "axis": null}}}
  ]
 }
]
}
